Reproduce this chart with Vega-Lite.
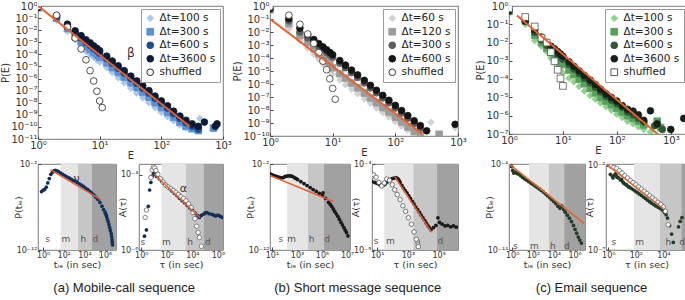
{
  "$schema": "https://vega.github.io/schema/vega-lite/v6.json",
  "padding": 0,
  "background": "white",
  "config": {
    "view": {"stroke": "#555555", "strokeWidth": 0.8},
    "font": "DejaVu Sans",
    "axis": {"domain": false, "grid": false, "ticks": true, "tickColor": "#444444", "tickSize": -3, "labelFont": "DejaVu Sans", "labelFontSize": 10, "labelColor": "#333333", "labelPadding": 4, "labelFlush": false, "labelOverlap": false, "titleFont": "DejaVu Sans", "titleFontSize": 10, "titleFontWeight": "normal", "titleColor": "#333333", "titlePadding": 0},
    "legend": {"orient": "top-right", "offset": 3, "fillColor": "#ffffff", "strokeColor": "#9a9a9a", "padding": 4, "labelFont": "DejaVu Sans", "labelFontSize": 10.5, "labelColor": "#222222", "symbolSize": 45, "symbolStrokeWidth": 1, "rowPadding": 1.5, "cornerRadius": 0}
  },
  "datasets": {
    "ta": [
      {"e":1,"p":0.708,"s":"Δt=100 s"},{"e":2,"p":0.0631,"s":"Δt=100 s"},{"e":3,"p":0.00794,"s":"Δt=100 s"},{"e":4,"p":0.00158,"s":"Δt=100 s"},{"e":5,"p":5.01e-4,"s":"Δt=100 s"},{"e":6,"p":1.78e-4,"s":"Δt=100 s"},{"e":7,"p":1e-4,"s":"Δt=100 s"},{"e":8,"p":5.62e-5,"s":"Δt=100 s"},{"e":9,"p":3.55e-5,"s":"Δt=100 s"},{"e":10,"p":2.24e-5,"s":"Δt=100 s"},{"e":13,"p":7.94e-6,"s":"Δt=100 s"},{"e":16,"p":3.16e-6,"s":"Δt=100 s"},{"e":20,"p":1.12e-6,"s":"Δt=100 s"},{"e":25,"p":4.47e-7,"s":"Δt=100 s"},{"e":32,"p":1.58e-7,"s":"Δt=100 s"},{"e":40,"p":6.31e-8,"s":"Δt=100 s"},{"e":50,"p":2.51e-8,"s":"Δt=100 s"},{"e":63,"p":1e-8,"s":"Δt=100 s"},{"e":79,"p":3.98e-9,"s":"Δt=100 s"},{"e":100,"p":1.58e-9,"s":"Δt=100 s"},{"e":126,"p":7.08e-10,"s":"Δt=100 s"},{"e":158,"p":3.16e-10,"s":"Δt=100 s"},{"e":200,"p":1.41e-10,"s":"Δt=100 s"},{"e":251,"p":7.94e-11,"s":"Δt=100 s"},{"e":420,"p":5.01e-10,"s":"Δt=100 s"},
      {"e":1,"p":0.708,"s":"Δt=300 s"},{"e":2,"p":0.1,"s":"Δt=300 s"},{"e":3,"p":0.0141,"s":"Δt=300 s"},{"e":4,"p":0.00316,"s":"Δt=300 s"},{"e":5,"p":0.00112,"s":"Δt=300 s"},{"e":6,"p":4.47e-4,"s":"Δt=300 s"},{"e":7,"p":2.51e-4,"s":"Δt=300 s"},{"e":8,"p":1.41e-4,"s":"Δt=300 s"},{"e":9,"p":8.91e-5,"s":"Δt=300 s"},{"e":10,"p":5.62e-5,"s":"Δt=300 s"},{"e":13,"p":2e-5,"s":"Δt=300 s"},{"e":16,"p":7.94e-6,"s":"Δt=300 s"},{"e":20,"p":3.16e-6,"s":"Δt=300 s"},{"e":25,"p":1.26e-6,"s":"Δt=300 s"},{"e":32,"p":4.47e-7,"s":"Δt=300 s"},{"e":40,"p":1.78e-7,"s":"Δt=300 s"},{"e":50,"p":7.08e-8,"s":"Δt=300 s"},{"e":63,"p":2.82e-8,"s":"Δt=300 s"},{"e":79,"p":1e-8,"s":"Δt=300 s"},{"e":100,"p":3.98e-9,"s":"Δt=300 s"},{"e":126,"p":1.58e-9,"s":"Δt=300 s"},{"e":158,"p":6.31e-10,"s":"Δt=300 s"},{"e":200,"p":2.51e-10,"s":"Δt=300 s"},{"e":251,"p":1.12e-10,"s":"Δt=300 s"},{"e":316,"p":7.08e-11,"s":"Δt=300 s"},{"e":398,"p":5.01e-11,"s":"Δt=300 s"},{"e":700,"p":7.94e-11,"s":"Δt=300 s"},
      {"e":1,"p":0.76,"s":"Δt=600 s"},{"e":2,"p":0.126,"s":"Δt=600 s"},{"e":3,"p":0.02,"s":"Δt=600 s"},{"e":4,"p":0.00562,"s":"Δt=600 s"},{"e":5,"p":0.00224,"s":"Δt=600 s"},{"e":6,"p":0.001,"s":"Δt=600 s"},{"e":7,"p":5.62e-4,"s":"Δt=600 s"},{"e":8,"p":3.16e-4,"s":"Δt=600 s"},{"e":9,"p":2e-4,"s":"Δt=600 s"},{"e":10,"p":1.26e-4,"s":"Δt=600 s"},{"e":13,"p":4.47e-5,"s":"Δt=600 s"},{"e":16,"p":1.78e-5,"s":"Δt=600 s"},{"e":20,"p":7.08e-6,"s":"Δt=600 s"},{"e":25,"p":2.82e-6,"s":"Δt=600 s"},{"e":32,"p":1e-6,"s":"Δt=600 s"},{"e":40,"p":3.98e-7,"s":"Δt=600 s"},{"e":50,"p":1.58e-7,"s":"Δt=600 s"},{"e":63,"p":6.31e-8,"s":"Δt=600 s"},{"e":79,"p":2.24e-8,"s":"Δt=600 s"},{"e":100,"p":8.91e-9,"s":"Δt=600 s"},{"e":126,"p":3.55e-9,"s":"Δt=600 s"},{"e":158,"p":1.26e-9,"s":"Δt=600 s"},{"e":200,"p":5.01e-10,"s":"Δt=600 s"},{"e":251,"p":2.24e-10,"s":"Δt=600 s"},{"e":316,"p":1.12e-10,"s":"Δt=600 s"},{"e":398,"p":6.31e-11,"s":"Δt=600 s"},
      {"e":1,"p":0.794,"s":"Δt=3600 s"},{"e":2,"p":0.158,"s":"Δt=3600 s"},{"e":3,"p":0.0316,"s":"Δt=3600 s"},{"e":4,"p":0.00891,"s":"Δt=3600 s"},{"e":5,"p":0.00355,"s":"Δt=3600 s"},{"e":6,"p":0.00158,"s":"Δt=3600 s"},{"e":7,"p":8.91e-4,"s":"Δt=3600 s"},{"e":8,"p":5.01e-4,"s":"Δt=3600 s"},{"e":9,"p":3.16e-4,"s":"Δt=3600 s"},{"e":10,"p":2e-4,"s":"Δt=3600 s"},{"e":13,"p":7.08e-5,"s":"Δt=3600 s"},{"e":16,"p":2.82e-5,"s":"Δt=3600 s"},{"e":20,"p":1.12e-5,"s":"Δt=3600 s"},{"e":25,"p":4.47e-6,"s":"Δt=3600 s"},{"e":32,"p":1.58e-6,"s":"Δt=3600 s"},{"e":40,"p":6.31e-7,"s":"Δt=3600 s"},{"e":50,"p":2.51e-7,"s":"Δt=3600 s"},{"e":63,"p":1e-7,"s":"Δt=3600 s"},{"e":79,"p":3.55e-8,"s":"Δt=3600 s"},{"e":100,"p":1.41e-8,"s":"Δt=3600 s"},{"e":126,"p":5.62e-9,"s":"Δt=3600 s"},{"e":158,"p":2e-9,"s":"Δt=3600 s"},{"e":200,"p":7.94e-10,"s":"Δt=3600 s"},{"e":251,"p":3.55e-10,"s":"Δt=3600 s"},{"e":316,"p":1.78e-10,"s":"Δt=3600 s"},{"e":398,"p":1.12e-10,"s":"Δt=3600 s"},{"e":500,"p":2.51e-10,"s":"Δt=3600 s"},{"e":750,"p":1.12e-10,"s":"Δt=3600 s"},{"e":800,"p":1.78e-10,"s":"Δt=3600 s"},
      {"e":1,"p":0.89,"s":"shuffled"},{"e":2,"p":0.174,"s":"shuffled"},{"e":3,"p":0.0178,"s":"shuffled"},{"e":4,"p":0.00224,"s":"shuffled"},{"e":5,"p":2.82e-4,"s":"shuffled"},{"e":6,"p":3.55e-5,"s":"shuffled"},{"e":7,"p":4.47e-6,"s":"shuffled"},{"e":8,"p":6.31e-7,"s":"shuffled"},{"e":9,"p":8.91e-8,"s":"shuffled"},{"e":10,"p":1.41e-8,"s":"shuffled"},{"e":11,"p":3.98e-9,"s":"shuffled"}
    ],
    "tb": [
      {"e":1,"p":0.447,"s":"Δt=60 s"},{"e":2,"p":0.0178,"s":"Δt=60 s"},{"e":3,"p":0.00214,"s":"Δt=60 s"},{"e":4,"p":5.62e-4,"s":"Δt=60 s"},{"e":5,"p":2e-4,"s":"Δt=60 s"},{"e":6,"p":7.94e-5,"s":"Δt=60 s"},{"e":7,"p":3.55e-5,"s":"Δt=60 s"},{"e":8,"p":1.78e-5,"s":"Δt=60 s"},{"e":9,"p":1e-5,"s":"Δt=60 s"},{"e":10,"p":5.62e-6,"s":"Δt=60 s"},{"e":13,"p":2e-6,"s":"Δt=60 s"},{"e":16,"p":8.91e-7,"s":"Δt=60 s"},{"e":20,"p":3.98e-7,"s":"Δt=60 s"},{"e":25,"p":1.78e-7,"s":"Δt=60 s"},{"e":32,"p":7.08e-8,"s":"Δt=60 s"},{"e":40,"p":3.16e-8,"s":"Δt=60 s"},{"e":50,"p":1.41e-8,"s":"Δt=60 s"},{"e":63,"p":6.31e-9,"s":"Δt=60 s"},{"e":79,"p":2.82e-9,"s":"Δt=60 s"},{"e":100,"p":1.26e-9,"s":"Δt=60 s"},{"e":126,"p":5.62e-10,"s":"Δt=60 s"},{"e":158,"p":2.82e-10,"s":"Δt=60 s"},{"e":200,"p":1.41e-10,"s":"Δt=60 s"},{"e":370,"p":1.12e-9,"s":"Δt=60 s"},{"e":900,"p":4.47e-10,"s":"Δt=60 s"},
      {"e":1,"p":0.501,"s":"Δt=120 s"},{"e":2,"p":0.0437,"s":"Δt=120 s"},{"e":3,"p":0.00525,"s":"Δt=120 s"},{"e":4,"p":0.00158,"s":"Δt=120 s"},{"e":5,"p":5.25e-4,"s":"Δt=120 s"},{"e":6,"p":2.04e-4,"s":"Δt=120 s"},{"e":7,"p":1e-4,"s":"Δt=120 s"},{"e":8,"p":5.37e-5,"s":"Δt=120 s"},{"e":9,"p":3.02e-5,"s":"Δt=120 s"},{"e":10,"p":1.78e-5,"s":"Δt=120 s"},{"e":13,"p":6.31e-6,"s":"Δt=120 s"},{"e":16,"p":2.82e-6,"s":"Δt=120 s"},{"e":20,"p":1.17e-6,"s":"Δt=120 s"},{"e":25,"p":5.01e-7,"s":"Δt=120 s"},{"e":32,"p":2e-7,"s":"Δt=120 s"},{"e":40,"p":8.32e-8,"s":"Δt=120 s"},{"e":50,"p":3.55e-8,"s":"Δt=120 s"},{"e":63,"p":1.51e-8,"s":"Δt=120 s"},{"e":79,"p":6.61e-9,"s":"Δt=120 s"},{"e":100,"p":2.82e-9,"s":"Δt=120 s"},{"e":126,"p":1.2e-9,"s":"Δt=120 s"},{"e":158,"p":5.01e-10,"s":"Δt=120 s"},{"e":200,"p":2.24e-10,"s":"Δt=120 s"},{"e":251,"p":1.12e-10,"s":"Δt=120 s"},{"e":500,"p":1.35e-10,"s":"Δt=120 s"},
      {"e":1,"p":0.562,"s":"Δt=300 s"},{"e":2,"p":0.0708,"s":"Δt=300 s"},{"e":3,"p":0.01,"s":"Δt=300 s"},{"e":4,"p":0.00355,"s":"Δt=300 s"},{"e":5,"p":0.00158,"s":"Δt=300 s"},{"e":6,"p":7.94e-4,"s":"Δt=300 s"},{"e":7,"p":4.47e-4,"s":"Δt=300 s"},{"e":8,"p":2.69e-4,"s":"Δt=300 s"},{"e":9,"p":1.7e-4,"s":"Δt=300 s"},{"e":10,"p":1.12e-4,"s":"Δt=300 s"},{"e":13,"p":3.98e-5,"s":"Δt=300 s"},{"e":16,"p":1.78e-5,"s":"Δt=300 s"},{"e":20,"p":7.41e-6,"s":"Δt=300 s"},{"e":25,"p":3.16e-6,"s":"Δt=300 s"},{"e":32,"p":1.2e-6,"s":"Δt=300 s"},{"e":40,"p":5.01e-7,"s":"Δt=300 s"},{"e":50,"p":2.09e-7,"s":"Δt=300 s"},{"e":63,"p":8.51e-8,"s":"Δt=300 s"},{"e":79,"p":3.55e-8,"s":"Δt=300 s"},{"e":100,"p":1.41e-8,"s":"Δt=300 s"},{"e":126,"p":5.75e-9,"s":"Δt=300 s"},{"e":158,"p":2.34e-9,"s":"Δt=300 s"},{"e":200,"p":9.33e-10,"s":"Δt=300 s"},{"e":251,"p":3.98e-10,"s":"Δt=300 s"},
      {"e":1,"p":0.631,"s":"Δt=600 s"},{"e":2,"p":0.107,"s":"Δt=600 s"},{"e":3,"p":0.02,"s":"Δt=600 s"},{"e":4,"p":0.00631,"s":"Δt=600 s"},{"e":5,"p":0.00263,"s":"Δt=600 s"},{"e":6,"p":0.00129,"s":"Δt=600 s"},{"e":7,"p":7.08e-4,"s":"Δt=600 s"},{"e":8,"p":4.27e-4,"s":"Δt=600 s"},{"e":9,"p":2.69e-4,"s":"Δt=600 s"},{"e":10,"p":1.78e-4,"s":"Δt=600 s"},{"e":13,"p":6.31e-5,"s":"Δt=600 s"},{"e":16,"p":2.82e-5,"s":"Δt=600 s"},{"e":20,"p":1.17e-5,"s":"Δt=600 s"},{"e":25,"p":5.01e-6,"s":"Δt=600 s"},{"e":32,"p":1.91e-6,"s":"Δt=600 s"},{"e":40,"p":7.94e-7,"s":"Δt=600 s"},{"e":50,"p":3.31e-7,"s":"Δt=600 s"},{"e":63,"p":1.35e-7,"s":"Δt=600 s"},{"e":79,"p":5.62e-8,"s":"Δt=600 s"},{"e":100,"p":2.24e-8,"s":"Δt=600 s"},{"e":126,"p":9.12e-9,"s":"Δt=600 s"},{"e":158,"p":3.72e-9,"s":"Δt=600 s"},{"e":200,"p":1.48e-9,"s":"Δt=600 s"},{"e":251,"p":6.31e-10,"s":"Δt=600 s"},{"e":316,"p":2.51e-10,"s":"Δt=600 s"},{"e":900,"p":7.94e-10,"s":"Δt=600 s"},
      {"e":1,"p":0.85,"s":"shuffled"},{"e":2,"p":0.195,"s":"shuffled"},{"e":3,"p":0.0389,"s":"shuffled"},{"e":4,"p":0.00708,"s":"shuffled"},{"e":5,"p":0.00132,"s":"shuffled"},{"e":6,"p":2.57e-4,"s":"shuffled"},{"e":7,"p":5.75e-5,"s":"shuffled"},{"e":8,"p":1.26e-5,"s":"shuffled"},{"e":9,"p":2.51e-6,"s":"shuffled"},{"e":10,"p":4.57e-7,"s":"shuffled"},{"e":11,"p":6.76e-8,"s":"shuffled"}
    ],
    "tc": [
      {"e":1,"p":0.447,"s":"Δt=100 s"},{"e":2,"p":0.1,"s":"Δt=100 s"},{"e":3,"p":0.0126,"s":"Δt=100 s"},{"e":4,"p":0.00631,"s":"Δt=100 s"},{"e":5,"p":0.00316,"s":"Δt=100 s"},{"e":6,"p":0.00141,"s":"Δt=100 s"},{"e":7,"p":7.94e-4,"s":"Δt=100 s"},{"e":8,"p":5.01e-4,"s":"Δt=100 s"},{"e":9,"p":3.16e-4,"s":"Δt=100 s"},{"e":10,"p":2.24e-4,"s":"Δt=100 s"},{"e":13,"p":1.12e-4,"s":"Δt=100 s"},{"e":16,"p":7.08e-5,"s":"Δt=100 s"},{"e":20,"p":3.98e-5,"s":"Δt=100 s"},{"e":25,"p":2.24e-5,"s":"Δt=100 s"},{"e":32,"p":1.26e-5,"s":"Δt=100 s"},{"e":40,"p":7.94e-6,"s":"Δt=100 s"},{"e":50,"p":5.01e-6,"s":"Δt=100 s"},{"e":63,"p":3.16e-6,"s":"Δt=100 s"},{"e":79,"p":2e-6,"s":"Δt=100 s"},{"e":100,"p":1.2e-6,"s":"Δt=100 s"},{"e":126,"p":7.94e-7,"s":"Δt=100 s"},{"e":158,"p":5.01e-7,"s":"Δt=100 s"},{"e":200,"p":3.55e-7,"s":"Δt=100 s"},{"e":251,"p":2.51e-7,"s":"Δt=100 s"},{"e":316,"p":1.78e-7,"s":"Δt=100 s"},{"e":420,"p":1.26e-7,"s":"Δt=100 s"},
      {"e":1,"p":0.501,"s":"Δt=300 s"},{"e":2,"p":0.166,"s":"Δt=300 s"},{"e":3,"p":0.0251,"s":"Δt=300 s"},{"e":4,"p":0.01,"s":"Δt=300 s"},{"e":5,"p":0.00501,"s":"Δt=300 s"},{"e":6,"p":0.00282,"s":"Δt=300 s"},{"e":7,"p":0.00178,"s":"Δt=300 s"},{"e":8,"p":0.00126,"s":"Δt=300 s"},{"e":9,"p":8.91e-4,"s":"Δt=300 s"},{"e":10,"p":6.31e-4,"s":"Δt=300 s"},{"e":13,"p":3.16e-4,"s":"Δt=300 s"},{"e":16,"p":1.78e-4,"s":"Δt=300 s"},{"e":20,"p":1e-4,"s":"Δt=300 s"},{"e":25,"p":5.62e-5,"s":"Δt=300 s"},{"e":32,"p":3.16e-5,"s":"Δt=300 s"},{"e":40,"p":1.78e-5,"s":"Δt=300 s"},{"e":50,"p":1e-5,"s":"Δt=300 s"},{"e":63,"p":6.31e-6,"s":"Δt=300 s"},{"e":79,"p":3.98e-6,"s":"Δt=300 s"},{"e":100,"p":2.51e-6,"s":"Δt=300 s"},{"e":126,"p":1.58e-6,"s":"Δt=300 s"},{"e":158,"p":1e-6,"s":"Δt=300 s"},{"e":200,"p":7.08e-7,"s":"Δt=300 s"},{"e":251,"p":5.01e-7,"s":"Δt=300 s"},{"e":316,"p":3.16e-7,"s":"Δt=300 s"},{"e":560,"p":5.01e-7,"s":"Δt=300 s"},{"e":650,"p":2.24e-7,"s":"Δt=300 s"},
      {"e":1,"p":0.501,"s":"Δt=600 s"},{"e":2,"p":0.141,"s":"Δt=600 s"},{"e":3,"p":0.0355,"s":"Δt=600 s"},{"e":4,"p":0.0141,"s":"Δt=600 s"},{"e":5,"p":0.00708,"s":"Δt=600 s"},{"e":6,"p":0.00447,"s":"Δt=600 s"},{"e":7,"p":0.00316,"s":"Δt=600 s"},{"e":8,"p":0.00224,"s":"Δt=600 s"},{"e":9,"p":0.00166,"s":"Δt=600 s"},{"e":10,"p":0.00126,"s":"Δt=600 s"},{"e":13,"p":6.31e-4,"s":"Δt=600 s"},{"e":16,"p":3.55e-4,"s":"Δt=600 s"},{"e":20,"p":2e-4,"s":"Δt=600 s"},{"e":25,"p":1.12e-4,"s":"Δt=600 s"},{"e":32,"p":6.31e-5,"s":"Δt=600 s"},{"e":40,"p":3.55e-5,"s":"Δt=600 s"},{"e":50,"p":2e-5,"s":"Δt=600 s"},{"e":63,"p":1.12e-5,"s":"Δt=600 s"},{"e":79,"p":7.08e-6,"s":"Δt=600 s"},{"e":100,"p":4.47e-6,"s":"Δt=600 s"},{"e":126,"p":2.82e-6,"s":"Δt=600 s"},{"e":158,"p":1.58e-6,"s":"Δt=600 s"},{"e":200,"p":1.12e-6,"s":"Δt=600 s"},{"e":251,"p":7.08e-7,"s":"Δt=600 s"},{"e":316,"p":4.47e-7,"s":"Δt=600 s"},{"e":500,"p":2.82e-7,"s":"Δt=600 s"},{"e":700,"p":1.78e-7,"s":"Δt=600 s"},
      {"e":1,"p":0.562,"s":"Δt=3600 s"},{"e":2,"p":0.158,"s":"Δt=3600 s"},{"e":3,"p":0.0501,"s":"Δt=3600 s"},{"e":4,"p":0.02,"s":"Δt=3600 s"},{"e":5,"p":0.01,"s":"Δt=3600 s"},{"e":6,"p":0.00631,"s":"Δt=3600 s"},{"e":7,"p":0.00447,"s":"Δt=3600 s"},{"e":8,"p":0.00316,"s":"Δt=3600 s"},{"e":9,"p":0.0024,"s":"Δt=3600 s"},{"e":10,"p":0.00178,"s":"Δt=3600 s"},{"e":13,"p":8.91e-4,"s":"Δt=3600 s"},{"e":16,"p":5.01e-4,"s":"Δt=3600 s"},{"e":20,"p":2.82e-4,"s":"Δt=3600 s"},{"e":25,"p":1.58e-4,"s":"Δt=3600 s"},{"e":32,"p":8.91e-5,"s":"Δt=3600 s"},{"e":40,"p":5.01e-5,"s":"Δt=3600 s"},{"e":50,"p":2.82e-5,"s":"Δt=3600 s"},{"e":63,"p":1.58e-5,"s":"Δt=3600 s"},{"e":79,"p":1e-5,"s":"Δt=3600 s"},{"e":100,"p":6.31e-6,"s":"Δt=3600 s"},{"e":126,"p":3.55e-6,"s":"Δt=3600 s"},{"e":158,"p":2.24e-6,"s":"Δt=3600 s"},{"e":200,"p":1.78e-6,"s":"Δt=3600 s"},{"e":251,"p":1.12e-6,"s":"Δt=3600 s"},{"e":316,"p":5.62e-7,"s":"Δt=3600 s"},{"e":420,"p":1.86e-6,"s":"Δt=3600 s"},{"e":560,"p":3.55e-7,"s":"Δt=3600 s"},{"e":1000,"p":1.78e-7,"s":"Δt=3600 s"},{"e":1740,"p":7.08e-7,"s":"Δt=3600 s"},
      {"e":1,"p":0.741,"s":"shuffled"},{"e":2,"p":0.251,"s":"shuffled"},{"e":3,"p":0.0759,"s":"shuffled"},{"e":4,"p":0.018,"s":"shuffled"},{"e":5,"p":0.01,"s":"shuffled"},{"e":6,"p":0.003,"s":"shuffled"},{"e":7,"p":9.5e-4,"s":"shuffled"},{"e":8,"p":3.24e-4,"s":"shuffled"},{"e":9,"p":1.1e-4,"s":"shuffled"},{"e":10,"p":4.27e-5,"s":"shuffled"}
    ],
    "fa": [{"e":1,"p":1},{"e":290,"p":1.1e-10}],
    "fb": [{"e":1,"p":0.1},{"e":270,"p":1.4e-10}],
    "fc": [{"e":1.4,"p":0.3},{"e":700,"p":6e-8}],
    "a1": [{"x":0.708,"y":6.31e-6},{"x":1,"y":8.91e-6},{"x":1.41,"y":1.12e-5},{"x":2,"y":2e-5},{"x":2.82,"y":6.31e-5},{"x":3.98,"y":2e-4},{"x":5.62,"y":6.31e-4},{"x":7.94,"y":1.12e-3},{"x":11.2,"y":1.58e-3},{"x":15.8,"y":1.78e-3},{"x":22.4,"y":1.58e-3},{"x":31.6,"y":1.26e-3},{"x":50.1,"y":8.91e-4},{"x":79.4,"y":6.31e-4},{"x":126,"y":4.47e-4},{"x":200,"y":3.16e-4},{"x":316,"y":2.51e-4},{"x":501,"y":1.78e-4},{"x":794,"y":1.26e-4},{"x":1260,"y":1e-4},{"x":2000,"y":7.08e-5},{"x":3160,"y":5.01e-5},{"x":5010,"y":3.55e-5},{"x":7940,"y":2.51e-5},{"x":12600,"y":1.58e-5},{"x":20000,"y":1.12e-5},{"x":31600,"y":7.08e-6},{"x":50100,"y":4.47e-6},{"x":79400,"y":2.51e-6},{"x":126000,"y":1.41e-6},{"x":200000,"y":7.94e-7},{"x":316000,"y":3.55e-7},{"x":501000,"y":1.26e-7},{"x":708000,"y":5.01e-8},{"x":1000000,"y":2.51e-8},{"x":1200000,"y":1.41e-8},{"x":1410000,"y":7.94e-9},{"x":1660000,"y":3.98e-9},{"x":2000000,"y":2e-9},{"x":2400000,"y":8.91e-10},{"x":2820000,"y":3.98e-10},{"x":3310000,"y":1.78e-10},{"x":3980000,"y":7.94e-11},{"x":4370000,"y":3.55e-11},{"x":4790000,"y":1.58e-11},{"x":5010000,"y":7.94e-12},{"x":5250000,"y":3.98e-12}],
    "a2f": [{"x":1.78,"y":3.55e-6},{"x":2.51,"y":6.31e-6},{"x":3.55,"y":5.62e-5},{"x":4.47,"y":2.51e-4},{"x":5.62,"y":5.01e-4},{"x":7.08,"y":8.91e-4},{"x":8.91,"y":1.2e-3},{"x":11.2,"y":1.05e-3},{"x":15.8,"y":8.71e-4},{"x":25.1,"y":7.08e-4},{"x":39.8,"y":5.62e-4},{"x":63.1,"y":4.47e-4},{"x":100,"y":3.55e-4},{"x":158,"y":2.88e-4},{"x":251,"y":2.29e-4},{"x":398,"y":1.82e-4},{"x":631,"y":1.48e-4},{"x":1000,"y":1.17e-4},{"x":1580,"y":9.33e-5},{"x":2510,"y":7.59e-5},{"x":3980,"y":6.03e-5},{"x":6310,"y":4.79e-5},{"x":10000,"y":3.8e-5},{"x":15800,"y":3.02e-5},{"x":25100,"y":2.45e-5},{"x":35500,"y":2e-5},{"x":50100,"y":2.4e-5},{"x":74100,"y":2.69e-5},{"x":100000,"y":3.02e-5},{"x":135000,"y":3.16e-5},{"x":200000,"y":2.82e-5},{"x":339000,"y":2.69e-5},{"x":447000,"y":2.51e-5},{"x":617000,"y":2.29e-5},{"x":832000,"y":2.4e-5},{"x":1120000,"y":2.45e-5},{"x":1580000,"y":2.19e-5},{"x":2240000,"y":2e-5}],
    "a2o": [{"x":2,"y":2e-5},{"x":2.51,"y":3.98e-5},{"x":5.62,"y":7.94e-4},{"x":7.08,"y":1.58e-3},{"x":8.91,"y":2.09e-3},{"x":11.2,"y":1.91e-3},{"x":14.1,"y":1.51e-3},{"x":20,"y":1.07e-3},{"x":31.6,"y":7.08e-4},{"x":50.1,"y":5.25e-4},{"x":79.4,"y":3.98e-4},{"x":126,"y":3.31e-4},{"x":200,"y":2.82e-4},{"x":316,"y":2.4e-4},{"x":501,"y":2e-4},{"x":794,"y":1.66e-4},{"x":1260,"y":1.38e-4},{"x":2000,"y":1.17e-4},{"x":3160,"y":9.33e-5},{"x":5010,"y":7.08e-5},{"x":7940,"y":5.01e-5},{"x":11200,"y":3.16e-5},{"x":15800,"y":1.78e-5},{"x":21400,"y":8.91e-6},{"x":28200,"y":5.01e-6},{"x":35500,"y":3.16e-6},{"x":50100,"y":1.41e-6}],
    "b1": [{"x":7.08,"y":7.24e-4},{"x":9.5,"y":5.8e-4},{"x":12.6,"y":4.68e-4},{"x":16.6,"y":4.1e-4},{"x":21.9,"y":3.63e-4},{"x":29,"y":3.1e-4},{"x":38.9,"y":2.75e-4},{"x":52,"y":2.6e-4},{"x":69.2,"y":2.51e-4},{"x":91,"y":2.9e-4},{"x":120,"y":3.63e-4},{"x":160,"y":4e-4},{"x":214,"y":4.27e-4},{"x":288,"y":4.2e-4},{"x":372,"y":3.89e-4},{"x":500,"y":3.2e-4},{"x":661,"y":2.51e-4},{"x":870,"y":1.95e-4},{"x":1150,"y":1.48e-4},{"x":2040,"y":8.91e-5},{"x":3630,"y":5.25e-5},{"x":6310,"y":3.09e-5},{"x":11200,"y":1.82e-5},{"x":19500,"y":1.07e-5},{"x":34700,"y":6.46e-6},{"x":60300,"y":3.8e-6},{"x":107000,"y":2.24e-6},{"x":120000,"y":4.47e-6},{"x":191000,"y":1e-6},{"x":331000,"y":3.55e-7},{"x":450000,"y":2e-7},{"x":589000,"y":1.15e-7},{"x":780000,"y":6e-8},{"x":1020000,"y":3.09e-8},{"x":1350000,"y":1.6e-8},{"x":1820000,"y":8.32e-9},{"x":2400000,"y":3.8e-9},{"x":3160000,"y":1.7e-9},{"x":4200000,"y":8.3e-10},{"x":5620000,"y":3.89e-10},{"x":7100000,"y":2e-10},{"x":8910000,"y":1.05e-10},{"x":11700000,"y":4.27e-11}],
    "b2f": [{"x":4.57,"y":3.89e-4},{"x":6.92,"y":3.72e-4},{"x":8.9,"y":3.6e-4},{"x":11.7,"y":3.47e-4},{"x":15.3,"y":3.25e-4},{"x":20,"y":3.09e-4},{"x":26,"y":3.25e-4},{"x":33.9,"y":3.47e-4},{"x":43.7,"y":3.8e-4},{"x":56.2,"y":4.17e-4},{"x":73,"y":4.4e-4},{"x":95.5,"y":4.57e-4},{"x":125,"y":4.7e-4},{"x":162,"y":4.79e-4},{"x":200,"y":4.65e-4},{"x":234,"y":4.47e-4},{"x":270,"y":4.1e-4},{"x":309,"y":3.72e-4},{"x":400,"y":3.2e-4},{"x":513,"y":2.75e-4},{"x":670,"y":2.4e-4},{"x":871,"y":2.14e-4},{"x":1130,"y":1.85e-4},{"x":1480,"y":1.58e-4},{"x":1930,"y":1.36e-4},{"x":2510,"y":1.17e-4},{"x":3270,"y":1e-4},{"x":4270,"y":8.71e-5},{"x":5560,"y":7.5e-5},{"x":7240,"y":6.46e-5},{"x":9450,"y":5.6e-5},{"x":12300,"y":4.9e-5},{"x":15800,"y":4.2e-5},{"x":20400,"y":3.63e-5},{"x":25700,"y":3.25e-5},{"x":31600,"y":2.95e-5},{"x":45700,"y":3.31e-5},{"x":66100,"y":3.72e-5},{"x":89100,"y":5.62e-5},{"x":112000,"y":4.37e-5},{"x":170000,"y":3.98e-5},{"x":257000,"y":3.63e-5},{"x":389000,"y":3.72e-5},{"x":603000,"y":3.47e-5},{"x":912000,"y":3.63e-5},{"x":1380000,"y":3.39e-5}],
    "b2o": [{"x":4.57,"y":5.13e-4},{"x":5.89,"y":5.62e-4},{"x":8.51,"y":4.9e-4},{"x":12.9,"y":3.72e-4},{"x":20,"y":3.09e-4},{"x":28.8,"y":3.63e-4},{"x":41.7,"y":4.47e-4},{"x":63.1,"y":4.17e-4},{"x":95.5,"y":3.31e-4},{"x":138,"y":2.51e-4},{"x":200,"y":1.95e-4},{"x":309,"y":1.48e-4},{"x":468,"y":1.07e-4},{"x":708,"y":7.94e-5},{"x":1070,"y":5.62e-5},{"x":1660,"y":3.98e-5},{"x":2510,"y":2.63e-5},{"x":3470,"y":1.78e-5},{"x":4680,"y":1.2e-5}],
    "c1": [{"x":0.891,"y":0.0501},{"x":1.12,"y":0.0178},{"x":1.41,"y":8.91e-3},{"x":2,"y":0.0112},{"x":2.82,"y":7.94e-3},{"x":3.98,"y":7.08e-3},{"x":6.31,"y":4.47e-3},{"x":10,"y":2.82e-3},{"x":15.8,"y":1.91e-3},{"x":25.1,"y":1.32e-3},{"x":39.8,"y":8.91e-4},{"x":63.1,"y":6.03e-4},{"x":100,"y":4.17e-4},{"x":158,"y":2.82e-4},{"x":251,"y":1.91e-4},{"x":398,"y":1.26e-4},{"x":631,"y":8.32e-5},{"x":1000,"y":5.37e-5},{"x":1580,"y":3.39e-5},{"x":2510,"y":2.09e-5},{"x":3980,"y":1.26e-5},{"x":6310,"y":7.59e-6},{"x":10000,"y":4.47e-6},{"x":15800,"y":2.51e-6},{"x":25100,"y":1.26e-6},{"x":39800,"y":7.08e-7},{"x":52500,"y":1.41e-6},{"x":63100,"y":1.12e-6},{"x":89100,"y":5.01e-7},{"x":126000,"y":2.51e-7},{"x":200000,"y":1.12e-7},{"x":316000,"y":5.01e-8},{"x":501000,"y":2e-8},{"x":794000,"y":7.08e-9},{"x":1120000,"y":2.51e-9},{"x":1580000,"y":8.91e-10},{"x":2240000,"y":3.16e-10},{"x":3160000,"y":1.41e-10},{"x":4470000,"y":6.31e-11}],
    "c2f": [{"x":1.41,"y":3.16e-3},{"x":2,"y":2.4e-3},{"x":2.2,"y":1.9e-3},{"x":2.82,"y":2.82e-3},{"x":3.3,"y":3.3e-3},{"x":3.98,"y":2.51e-3},{"x":4.5,"y":2.1e-3},{"x":5.62,"y":1.91e-3},{"x":7.94,"y":1.41e-3},{"x":9,"y":1.6e-3},{"x":11.2,"y":1.12e-3},{"x":13,"y":9.5e-4},{"x":15.8,"y":8.51e-4},{"x":19,"y":7.8e-4},{"x":22.4,"y":7.08e-4},{"x":28,"y":5.8e-4},{"x":31.6,"y":5.62e-4},{"x":44.7,"y":4.68e-4},{"x":63.1,"y":3.89e-4},{"x":89.1,"y":3.16e-4},{"x":126,"y":2.63e-4},{"x":178,"y":2.14e-4},{"x":251,"y":1.74e-4},{"x":355,"y":1.41e-4},{"x":501,"y":1.15e-4},{"x":708,"y":9.12e-5},{"x":1000,"y":7.41e-5},{"x":1410,"y":6.03e-5},{"x":2000,"y":5.01e-5},{"x":2820,"y":4.17e-5},{"x":3980,"y":3.55e-5},{"x":5620,"y":3.02e-5},{"x":7940,"y":2.51e-5},{"x":10000,"y":2.09e-5},{"x":12600,"y":1.66e-5},{"x":15800,"y":1.26e-5},{"x":20000,"y":7.94e-6},{"x":28200,"y":2.82e-6},{"x":39800,"y":8.91e-7},{"x":52500,"y":2.82e-7},{"x":126000,"y":2.4e-6},{"x":166000,"y":5.01e-6},{"x":224000,"y":8.32e-6}],
    "c2o": [{"x":1.58,"y":9.55e-3},{"x":2.51,"y":8.32e-3},{"x":3.98,"y":7.08e-3},{"x":6.31,"y":5.25e-3},{"x":10,"y":3.8e-3},{"x":15.8,"y":2.63e-3},{"x":25.1,"y":1.91e-3},{"x":39.8,"y":1.38e-3},{"x":63.1,"y":1.02e-3},{"x":100,"y":7.59e-4},{"x":158,"y":5.62e-4},{"x":251,"y":4.17e-4},{"x":398,"y":3.09e-4},{"x":631,"y":2.29e-4},{"x":1000,"y":1.66e-4},{"x":1580,"y":1.26e-4},{"x":2510,"y":9.33e-5},{"x":3980,"y":6.92e-5},{"x":6310,"y":5.01e-5},{"x":10000,"y":3.55e-5},{"x":14100,"y":2e-5},{"x":22400,"y":3.16e-6}]
  },
  "resolve": {"scale": {"shape": "independent", "fill": "independent", "stroke": "independent"}, "legend": {"shape": "independent", "fill": "independent", "stroke": "independent"}},
  "spacing": 8,
  "hconcat": [
    {
      "spacing": 0,
      "resolve": {"scale": {"shape": "independent", "fill": "independent", "stroke": "independent"}, "legend": {"shape": "independent", "fill": "independent", "stroke": "independent"}},
      "hconcat": [
        {
          "bounds": "flush",
          "spacing": 25,
          "resolve": {"scale": {"shape": "independent", "fill": "independent", "stroke": "independent"}, "legend": {"shape": "independent", "fill": "independent", "stroke": "independent"}},
          "title": {"text": "(a) Mobile-call sequence", "orient": "bottom", "anchor": "middle", "frame": "bounds", "offset": 13, "dx": 8, "font": "Liberation Sans", "fontSize": 13, "fontWeight": "normal", "color": "#222222"},
          "vconcat": [
            {
              "width": 185, "height": 133,
              "data": {"name": "ta"},
              "encoding": {
                "x": {"field": "e", "type": "quantitative", "scale": {"type": "log", "domain": [1, 1000], "nice": false}, "axis": {"title": "E", "values": [1, 10, 100, 1000], "labelExpr": "'10' + (datum.value < 0.5 ? '⁻' : '') + (abs(round(log(datum.value)/LN10)) >= 10 ? '¹' : '') + ['⁰','¹','²','³','⁴','⁵','⁶','⁷','⁸','⁹'][abs(round(log(datum.value)/LN10)) % 10]"}},
                "y": {"field": "p", "type": "quantitative", "scale": {"type": "log", "domain": [1e-11, 1], "nice": false}, "axis": {"title": "P(E)", "values": [1, 0.1, 0.01, 0.001, 1e-4, 1e-5, 1e-6, 1e-7, 1e-8, 1e-9, 1e-10, 1e-11], "labelExpr": "'10' + (datum.value < 0.5 ? '⁻' : '') + (abs(round(log(datum.value)/LN10)) >= 10 ? '¹' : '') + ['⁰','¹','²','³','⁴','⁵','⁶','⁷','⁸','⁹'][abs(round(log(datum.value)/LN10)) % 10]"}}
              },
              "layer": [
                {
                  "mark": {"type": "point", "filled": true, "size": 45, "strokeWidth": 0.8, "opacity": 1, "clip": true},
                  "encoding": {
                    "shape": {"field": "s", "type": "nominal", "scale": {"domain": ["Δt=100 s", "Δt=300 s", "Δt=600 s", "Δt=3600 s", "shuffled"], "range": ["diamond", "square", "circle", "circle", "circle"]}, "legend": {"title": null}},
                    "fill": {"field": "s", "type": "nominal", "scale": {"domain": ["Δt=100 s", "Δt=300 s", "Δt=600 s", "Δt=3600 s", "shuffled"], "range": ["#a9c9ef", "#5d8fd3", "#1f4d8c", "#0c1a35", "#ffffff"]}, "legend": {"title": null}},
                    "stroke": {"field": "s", "type": "nominal", "scale": {"domain": ["Δt=100 s", "Δt=300 s", "Δt=600 s", "Δt=3600 s", "shuffled"], "range": ["#a9c9ef", "#5d8fd3", "#1f4d8c", "#0c1a35", "#222222"]}, "legend": {"title": null}}
                  }
                },
                {"data": {"name": "fa"}, "mark": {"type": "line", "color": "#e8602c", "strokeWidth": 2, "clip": true}, "encoding": {}},
                {"data": {"values": [{"e": 32, "p": 1.3e-4, "t": "β"}]}, "mark": {"type": "text", "fontSize": 12, "color": "#333333"}, "encoding": {"text": {"field": "t"}}}
              ]
            },
            {
              "bounds": "flush",
              "spacing": 23,
              "hconcat": [
                {
                  "width": 78, "height": 86,
                  "encoding": {"x": {"field": "x", "type": "quantitative", "scale": {"type": "log", "domain": [0.32, 11500000], "nice": false}, "axis": {"title": "tᵢₑ (in sec)", "values": [1, 100, 10000, 1000000], "labelFontSize": 8, "titleFontSize": 9.5, "labelExpr": "'10' + (datum.value < 0.5 ? '⁻' : '') + (abs(round(log(datum.value)/LN10)) >= 10 ? '¹' : '') + ['⁰','¹','²','³','⁴','⁵','⁶','⁷','⁸','⁹'][abs(round(log(datum.value)/LN10)) % 10]"}}},
                  "layer": [
                    {"data": {"values": [{"b": "m", "x": 50, "x2": 2400}, {"b": "h", "x": 2400, "x2": 50000}, {"b": "d", "x": 50000, "x2": 11500000}]}, "mark": {"type": "rect", "clip": true}, "encoding": {"x2": {"field": "x2"}, "color": {"field": "b", "type": "nominal", "scale": {"domain": ["m", "h", "d"], "range": ["#e5e5e5", "#c6c6c6", "#a1a1a1"]}, "legend": null}}},
                    {
                      "encoding": {"y": {"field": "y", "type": "quantitative", "scale": {"type": "log", "domain": [1e-12, 0.01], "nice": false}, "axis": {"title": "P(tᵢₑ)", "values": [1e-12, 0.01], "labelFontSize": 8, "titleFontSize": 9.5, "titlePadding": -7, "labelExpr": "'10' + (datum.value < 0.5 ? '⁻' : '') + (abs(round(log(datum.value)/LN10)) >= 10 ? '¹' : '') + ['⁰','¹','²','³','⁴','⁵','⁶','⁷','⁸','⁹'][abs(round(log(datum.value)/LN10)) % 10]"}}},
                      "layer": [
                        {"data": {"values": [{"x": 2.75, "y": 2e-11, "t": "s"}, {"x": 158, "y": 2e-11, "t": "m"}, {"x": 7940, "y": 2e-11, "t": "h"}, {"x": 112000, "y": 2e-11, "t": "d"}]}, "mark": {"type": "text", "fontSize": 9, "color": "#555555"}, "encoding": {"text": {"field": "t"}}},
                        {"data": {"values": [{"x": 1740, "y": 1.74e-4, "t": "ν"}]}, "mark": {"type": "text", "fontSize": 11, "color": "#333333"}, "encoding": {"text": {"field": "t"}}},
                        {"data": {"name": "a1"}, "mark": {"type": "circle", "size": 14, "color": "#12305e", "opacity": 1, "clip": true}},
                        {"data": {"values": [{"x": 5.5, "y": 2.04e-3}, {"x": 390000, "y": 7.2e-7}]}, "mark": {"type": "line", "color": "#e8602c", "strokeWidth": 1.5, "clip": true}, "encoding": {}}
                      ]
                    }
                  ]
                },
                {
                  "width": 84, "height": 86,
                  "encoding": {"x": {"field": "x", "type": "quantitative", "scale": {"type": "log", "domain": [0.66, 2500000], "nice": false}, "axis": {"title": "τ (in sec)", "values": [1, 100, 10000, 1000000], "labelFontSize": 8, "titleFontSize": 9.5, "labelExpr": "'10' + (datum.value < 0.5 ? '⁻' : '') + (abs(round(log(datum.value)/LN10)) >= 10 ? '¹' : '') + ['⁰','¹','²','³','⁴','⁵','⁶','⁷','⁸','⁹'][abs(round(log(datum.value)/LN10)) % 10]"}}},
                  "layer": [
                    {"data": {"values": [{"b": "m", "x": 38, "x2": 2950}, {"b": "h", "x": 2950, "x2": 74000}, {"b": "d", "x": 74000, "x2": 2500000}]}, "mark": {"type": "rect", "clip": true}, "encoding": {"x2": {"field": "x2"}, "color": {"field": "b", "type": "nominal", "scale": {"domain": ["m", "h", "d"], "range": ["#e5e5e5", "#c6c6c6", "#a1a1a1"]}, "legend": null}}},
                    {
                      "encoding": {"y": {"field": "y", "type": "quantitative", "scale": {"type": "log", "domain": [1e-6, 0.00275], "nice": false}, "axis": {"title": "A(τ)", "values": [1e-6, 0.001], "labelFontSize": 8, "titleFontSize": 9.5, "titlePadding": -7, "labelExpr": "'10' + (datum.value < 0.5 ? '⁻' : '') + (abs(round(log(datum.value)/LN10)) >= 10 ? '¹' : '') + ['⁰','¹','²','³','⁴','⁵','⁶','⁷','⁸','⁹'][abs(round(log(datum.value)/LN10)) % 10]"}}},
                      "layer": [
                        {"data": {"values": [{"x": 1.35, "y": 2e-6, "t": "s"}, {"x": 93, "y": 2e-6, "t": "m"}, {"x": 6600, "y": 2e-6, "t": "h"}, {"x": 162000, "y": 2e-6, "t": "d"}]}, "mark": {"type": "text", "fontSize": 9, "color": "#555555"}, "encoding": {"text": {"field": "t"}}},
                        {"data": {"values": [{"x": 1950, "y": 2.75e-4, "t": "α"}]}, "mark": {"type": "text", "fontSize": 11, "color": "#333333"}, "encoding": {"text": {"field": "t"}}},
                        {"data": {"name": "a2f"}, "mark": {"type": "circle", "size": 14, "color": "#12305e", "opacity": 1, "clip": true}},
                        {"data": {"name": "a2o"}, "mark": {"type": "point", "shape": "circle", "size": 20, "fill": "#ffffff", "stroke": "#555555", "strokeWidth": 0.7, "opacity": 1, "filled": false, "clip": true}},
                        {"data": {"values": [{"x": 10, "y": 1.1e-3}, {"x": 40000, "y": 1.95e-5}]}, "mark": {"type": "line", "color": "#e8602c", "strokeWidth": 1.5, "clip": true}, "encoding": {}}
                      ]
                    }
                  ]
                }
              ]
            }
          ]
        },
        {
          "bounds": "flush",
          "spacing": 28,
          "resolve": {"scale": {"shape": "independent", "fill": "independent", "stroke": "independent"}, "legend": {"shape": "independent", "fill": "independent", "stroke": "independent"}},
          "title": {"text": "(b) Short message sequence", "orient": "bottom", "anchor": "middle", "frame": "bounds", "offset": 13, "dx": 8, "font": "Liberation Sans", "fontSize": 13, "fontWeight": "normal", "color": "#222222"},
          "vconcat": [
            {
              "width": 188, "height": 130,
              "data": {"name": "tb"},
              "encoding": {
                "x": {"field": "e", "type": "quantitative", "scale": {"type": "log", "domain": [1, 1000], "nice": false}, "axis": {"title": "E", "values": [1, 10, 100, 1000], "labelExpr": "'10' + (datum.value < 0.5 ? '⁻' : '') + (abs(round(log(datum.value)/LN10)) >= 10 ? '¹' : '') + ['⁰','¹','²','³','⁴','⁵','⁶','⁷','⁸','⁹'][abs(round(log(datum.value)/LN10)) % 10]"}},
                "y": {"field": "p", "type": "quantitative", "scale": {"type": "log", "domain": [1e-10, 1], "nice": false}, "axis": {"title": "P(E)", "values": [1, 0.1, 0.01, 0.001, 1e-4, 1e-5, 1e-6, 1e-7, 1e-8, 1e-9, 1e-10], "labelExpr": "'10' + (datum.value < 0.5 ? '⁻' : '') + (abs(round(log(datum.value)/LN10)) >= 10 ? '¹' : '') + ['⁰','¹','²','³','⁴','⁵','⁶','⁷','⁸','⁹'][abs(round(log(datum.value)/LN10)) % 10]"}}
              },
              "layer": [
                {
                  "mark": {"type": "point", "filled": true, "size": 45, "strokeWidth": 0.8, "opacity": 1, "clip": true},
                  "encoding": {
                    "shape": {"field": "s", "type": "nominal", "scale": {"domain": ["Δt=60 s", "Δt=120 s", "Δt=300 s", "Δt=600 s", "shuffled"], "range": ["diamond", "square", "circle", "circle", "circle"]}, "legend": {"title": null}},
                    "fill": {"field": "s", "type": "nominal", "scale": {"domain": ["Δt=60 s", "Δt=120 s", "Δt=300 s", "Δt=600 s", "shuffled"], "range": ["#d2d2d2", "#9c9c9c", "#5e5e5e", "#151515", "#ffffff"]}, "legend": {"title": null}},
                    "stroke": {"field": "s", "type": "nominal", "scale": {"domain": ["Δt=60 s", "Δt=120 s", "Δt=300 s", "Δt=600 s", "shuffled"], "range": ["#d2d2d2", "#9c9c9c", "#5e5e5e", "#151515", "#333333"]}, "legend": {"title": null}}
                  }
                },
                {"data": {"name": "fb"}, "mark": {"type": "line", "color": "#e8602c", "strokeWidth": 2, "clip": true}, "encoding": {}}
              ]
            },
            {
              "bounds": "flush",
              "spacing": 22,
              "hconcat": [
                {
                  "width": 80, "height": 86,
                  "encoding": {"x": {"field": "x", "type": "quantitative", "scale": {"type": "log", "domain": [7, 17000000], "nice": false}, "axis": {"title": "tᵢₑ (in sec)", "values": [10, 1000, 100000, 10000000], "labelFontSize": 8, "titleFontSize": 9.5, "labelExpr": "'10' + (datum.value < 0.5 ? '⁻' : '') + (abs(round(log(datum.value)/LN10)) >= 10 ? '¹' : '') + ['⁰','¹','²','³','⁴','⁵','⁶','⁷','⁸','⁹'][abs(round(log(datum.value)/LN10)) % 10]"}}},
                  "layer": [
                    {"data": {"values": [{"b": "m", "x": 160, "x2": 7400}, {"b": "h", "x": 7400, "x2": 141000}, {"b": "d", "x": 141000, "x2": 17000000}]}, "mark": {"type": "rect", "clip": true}, "encoding": {"x2": {"field": "x2"}, "color": {"field": "b", "type": "nominal", "scale": {"domain": ["m", "h", "d"], "range": ["#e5e5e5", "#c6c6c6", "#a1a1a1"]}, "legend": null}}},
                    {
                      "encoding": {"y": {"field": "y", "type": "quantitative", "scale": {"type": "log", "domain": [1e-12, 0.01], "nice": false}, "axis": {"title": "P(tᵢₑ)", "values": [1e-12, 0.01], "labelFontSize": 8, "titleFontSize": 9.5, "titlePadding": -7, "labelExpr": "'10' + (datum.value < 0.5 ? '⁻' : '') + (abs(round(log(datum.value)/LN10)) >= 10 ? '¹' : '') + ['⁰','¹','²','³','⁴','⁵','⁶','⁷','⁸','⁹'][abs(round(log(datum.value)/LN10)) % 10]"}}},
                      "layer": [
                        {"data": {"values": [{"x": 51, "y": 1.78e-11, "t": "s"}, {"x": 372, "y": 1.78e-11, "t": "m"}, {"x": 14800, "y": 1.78e-11, "t": "h"}, {"x": 251000, "y": 1.78e-11, "t": "d"}]}, "mark": {"type": "text", "fontSize": 9, "color": "#555555"}, "encoding": {"text": {"field": "t"}}},
                        {"data": {"name": "b1"}, "mark": {"type": "circle", "size": 14, "color": "#1a1a1a", "opacity": 1, "clip": true}},
                        {"data": {"values": [{"x": 7.1, "y": 4.7e-4}, {"x": 776000, "y": 4.3e-7}]}, "mark": {"type": "line", "color": "#e8602c", "strokeWidth": 1.5, "clip": true}, "encoding": {}}
                      ]
                    }
                  ]
                },
                {
                  "width": 86, "height": 86,
                  "encoding": {"x": {"field": "x", "type": "quantitative", "scale": {"type": "log", "domain": [4.6, 1800000], "nice": false}, "axis": {"title": "τ (in sec)", "values": [10, 1000, 100000], "labelFontSize": 8, "titleFontSize": 9.5, "labelExpr": "'10' + (datum.value < 0.5 ? '⁻' : '') + (abs(round(log(datum.value)/LN10)) >= 10 ? '¹' : '') + ['⁰','¹','²','³','⁴','⁵','⁶','⁷','⁸','⁹'][abs(round(log(datum.value)/LN10)) % 10]"}}},
                  "layer": [
                    {"data": {"values": [{"b": "m", "x": 29, "x2": 2240}, {"b": "h", "x": 2240, "x2": 78000}, {"b": "d", "x": 78000, "x2": 1800000}]}, "mark": {"type": "rect", "clip": true}, "encoding": {"x2": {"field": "x2"}, "color": {"field": "b", "type": "nominal", "scale": {"domain": ["m", "h", "d"], "range": ["#e5e5e5", "#c6c6c6", "#a1a1a1"]}, "legend": null}}},
                    {
                      "encoding": {"y": {"field": "y", "type": "quantitative", "scale": {"type": "log", "domain": [1e-5, 0.001], "nice": false}, "axis": {"title": "A(τ)", "values": [1e-5, 0.001], "labelFontSize": 8, "titleFontSize": 9.5, "titlePadding": -7, "labelExpr": "'10' + (datum.value < 0.5 ? '⁻' : '') + (abs(round(log(datum.value)/LN10)) >= 10 ? '¹' : '') + ['⁰','¹','²','³','⁴','⁵','⁶','⁷','⁸','⁹'][abs(round(log(datum.value)/LN10)) % 10]"}}},
                      "layer": [
                        {"data": {"values": [{"x": 8.5, "y": 1.6e-5, "t": "s"}, {"x": 71, "y": 1.6e-5, "t": "m"}, {"x": 4300, "y": 1.6e-5, "t": "h"}, {"x": 129000, "y": 1.6e-5, "t": "d"}]}, "mark": {"type": "text", "fontSize": 9, "color": "#555555"}, "encoding": {"text": {"field": "t"}}},
                        {"data": {"name": "b2f"}, "mark": {"type": "circle", "size": 14, "color": "#1a1a1a", "opacity": 1, "clip": true}},
                        {"data": {"name": "b2o"}, "mark": {"type": "point", "shape": "circle", "size": 20, "fill": "#ffffff", "stroke": "#444444", "strokeWidth": 0.7, "opacity": 1, "filled": false, "clip": true}},
                        {"data": {"values": [{"x": 138, "y": 5.1e-4}, {"x": 34700, "y": 2.57e-5}]}, "mark": {"type": "line", "color": "#e8602c", "strokeWidth": 1.5, "clip": true}, "encoding": {}}
                      ]
                    }
                  ]
                }
              ]
            }
          ]
        }
      ]
    },
    {
      "bounds": "flush",
      "spacing": 30,
      "resolve": {"scale": {"shape": "independent", "fill": "independent", "stroke": "independent"}, "legend": {"shape": "independent", "fill": "independent", "stroke": "independent"}},
      "title": {"text": "(c) Email sequence", "orient": "bottom", "anchor": "middle", "frame": "bounds", "offset": 13, "dx": 10, "font": "Liberation Sans", "fontSize": 13, "fontWeight": "normal", "color": "#222222"},
      "vconcat": [
        {
          "width": 178, "height": 128,
          "data": {"name": "tc"},
          "encoding": {
            "x": {"field": "e", "type": "quantitative", "scale": {"type": "log", "domain": [1, 2000], "nice": false}, "axis": {"title": "E", "values": [1, 10, 100, 1000], "labelExpr": "'10' + (datum.value < 0.5 ? '⁻' : '') + (abs(round(log(datum.value)/LN10)) >= 10 ? '¹' : '') + ['⁰','¹','²','³','⁴','⁵','⁶','⁷','⁸','⁹'][abs(round(log(datum.value)/LN10)) % 10]"}},
            "y": {"field": "p", "type": "quantitative", "scale": {"type": "log", "domain": [1e-7, 1], "nice": false}, "axis": {"title": "P(E)", "values": [1, 0.1, 0.01, 0.001, 1e-4, 1e-5, 1e-6, 1e-7], "labelExpr": "'10' + (datum.value < 0.5 ? '⁻' : '') + (abs(round(log(datum.value)/LN10)) >= 10 ? '¹' : '') + ['⁰','¹','²','³','⁴','⁵','⁶','⁷','⁸','⁹'][abs(round(log(datum.value)/LN10)) % 10]"}}
          },
          "layer": [
            {
              "mark": {"type": "point", "filled": true, "size": 45, "strokeWidth": 0.8, "opacity": 1, "clip": true},
              "encoding": {
                "shape": {"field": "s", "type": "nominal", "scale": {"domain": ["Δt=100 s", "Δt=300 s", "Δt=600 s", "Δt=3600 s", "shuffled"], "range": ["diamond", "square", "circle", "circle", "square"]}, "legend": {"title": null}},
                "fill": {"field": "s", "type": "nominal", "scale": {"domain": ["Δt=100 s", "Δt=300 s", "Δt=600 s", "Δt=3600 s", "shuffled"], "range": ["#8fd28f", "#5a9f5a", "#2e5a38", "#142019", "#ffffff"]}, "legend": {"title": null}},
                "stroke": {"field": "s", "type": "nominal", "scale": {"domain": ["Δt=100 s", "Δt=300 s", "Δt=600 s", "Δt=3600 s", "shuffled"], "range": ["#8fd28f", "#5a9f5a", "#2e5a38", "#142019", "#555555"]}, "legend": {"title": null}}
              }
            },
            {"data": {"name": "fc"}, "mark": {"type": "line", "color": "#e8602c", "strokeWidth": 2, "clip": true}, "encoding": {}}
          ]
        },
        {
          "bounds": "flush",
          "spacing": 21,
          "hconcat": [
            {
              "width": 76, "height": 86,
              "encoding": {"x": {"field": "x", "type": "quantitative", "scale": {"type": "log", "domain": [0.5, 10000000], "nice": false}, "axis": {"title": "tᵢₑ (in sec)", "values": [1, 100, 10000, 1000000], "labelFontSize": 8, "titleFontSize": 9.5, "labelExpr": "'10' + (datum.value < 0.5 ? '⁻' : '') + (abs(round(log(datum.value)/LN10)) >= 10 ? '¹' : '') + ['⁰','¹','²','³','⁴','⁵','⁶','⁷','⁸','⁹'][abs(round(log(datum.value)/LN10)) % 10]"}}},
              "layer": [
                {"data": {"values": [{"b": "m", "x": 42, "x2": 3400}, {"b": "h", "x": 3400, "x2": 100000}, {"b": "d", "x": 100000, "x2": 10000000}]}, "mark": {"type": "rect", "clip": true}, "encoding": {"x2": {"field": "x2"}, "color": {"field": "b", "type": "nominal", "scale": {"domain": ["m", "h", "d"], "range": ["#e5e5e5", "#c6c6c6", "#a1a1a1"]}, "legend": null}}},
                {
                  "encoding": {"y": {"field": "y", "type": "quantitative", "scale": {"type": "log", "domain": [1e-11, 0.1], "nice": false}, "axis": {"title": "P(tᵢₑ)", "values": [1e-11, 0.1], "labelFontSize": 8, "titleFontSize": 9.5, "titlePadding": -7, "labelExpr": "'10' + (datum.value < 0.5 ? '⁻' : '') + (abs(round(log(datum.value)/LN10)) >= 10 ? '¹' : '') + ['⁰','¹','²','³','⁴','⁵','⁶','⁷','⁸','⁹'][abs(round(log(datum.value)/LN10)) % 10]"}}},
                  "layer": [
                    {"data": {"values": [{"x": 2, "y": 3.2e-11, "t": "s"}, {"x": 135, "y": 3.2e-11, "t": "m"}, {"x": 8000, "y": 3.2e-11, "t": "h"}, {"x": 178000, "y": 3.2e-11, "t": "d"}]}, "mark": {"type": "text", "fontSize": 9, "color": "#555555"}, "encoding": {"text": {"field": "t"}}},
                    {"data": {"name": "c1"}, "mark": {"type": "circle", "size": 14, "color": "#1f3d26", "opacity": 1, "clip": true}},
                    {"data": {"values": [{"x": 0.5, "y": 0.1}, {"x": 7900000, "y": 1.26e-8}]}, "mark": {"type": "line", "color": "#e8602c", "strokeWidth": 1.5, "clip": true}, "encoding": {}}
                  ]
                }
              ]
            },
            {
              "width": 81, "height": 86,
              "encoding": {"x": {"field": "x", "type": "quantitative", "scale": {"type": "log", "domain": [0.68, 520000], "nice": false}, "axis": {"title": "τ (in sec)", "values": [1, 100, 10000], "labelFontSize": 8, "titleFontSize": 9.5, "labelExpr": "'10' + (datum.value < 0.5 ? '⁻' : '') + (abs(round(log(datum.value)/LN10)) >= 10 ? '¹' : '') + ['⁰','¹','²','³','⁴','⁵','⁶','⁷','⁸','⁹'][abs(round(log(datum.value)/LN10)) % 10]"}}},
              "layer": [
                {"data": {"values": [{"b": "m", "x": 74, "x2": 5600}, {"b": "h", "x": 5600, "x2": 200000}, {"b": "d", "x": 200000, "x2": 520000}]}, "mark": {"type": "rect", "clip": true}, "encoding": {"x2": {"field": "x2"}, "color": {"field": "b", "type": "nominal", "scale": {"domain": ["m", "h", "d"], "range": ["#e5e5e5", "#c6c6c6", "#a1a1a1"]}, "legend": null}}},
                {
                  "encoding": {"y": {"field": "y", "type": "quantitative", "scale": {"type": "log", "domain": [1e-7, 0.0129], "nice": false}, "axis": {"title": "A(τ)", "values": [1e-7, 0.01], "labelFontSize": 8, "titleFontSize": 9.5, "titlePadding": -7, "labelExpr": "'10' + (datum.value < 0.5 ? '⁻' : '') + (abs(round(log(datum.value)/LN10)) >= 10 ? '¹' : '') + ['⁰','¹','²','³','⁴','⁵','⁶','⁷','⁸','⁹'][abs(round(log(datum.value)/LN10)) % 10]"}}},
                  "layer": [
                    {"data": {"values": [{"x": 2.5, "y": 2.95e-7, "t": "s"}, {"x": 190, "y": 2.95e-7, "t": "m"}, {"x": 23400, "y": 2.95e-7, "t": "h"}, {"x": 230000, "y": 2.95e-7, "t": "d"}]}, "mark": {"type": "text", "fontSize": 9, "color": "#555555"}, "encoding": {"text": {"field": "t"}}},
                    {"data": {"name": "c2f"}, "mark": {"type": "circle", "size": 14, "color": "#1f3d26", "opacity": 1, "clip": true}},
                    {"data": {"name": "c2o"}, "mark": {"type": "point", "shape": "circle", "size": 20, "fill": "#ffffff", "stroke": "#555555", "strokeWidth": 0.7, "opacity": 1, "filled": false, "clip": true}},
                    {"data": {"values": [{"x": 0.68, "y": 0.0129}, {"x": 10000, "y": 2.82e-5}]}, "mark": {"type": "line", "color": "#e8602c", "strokeWidth": 1.5, "clip": true}, "encoding": {}}
                  ]
                }
              ]
            }
          ]
        }
      ]
    }
  ]
}
